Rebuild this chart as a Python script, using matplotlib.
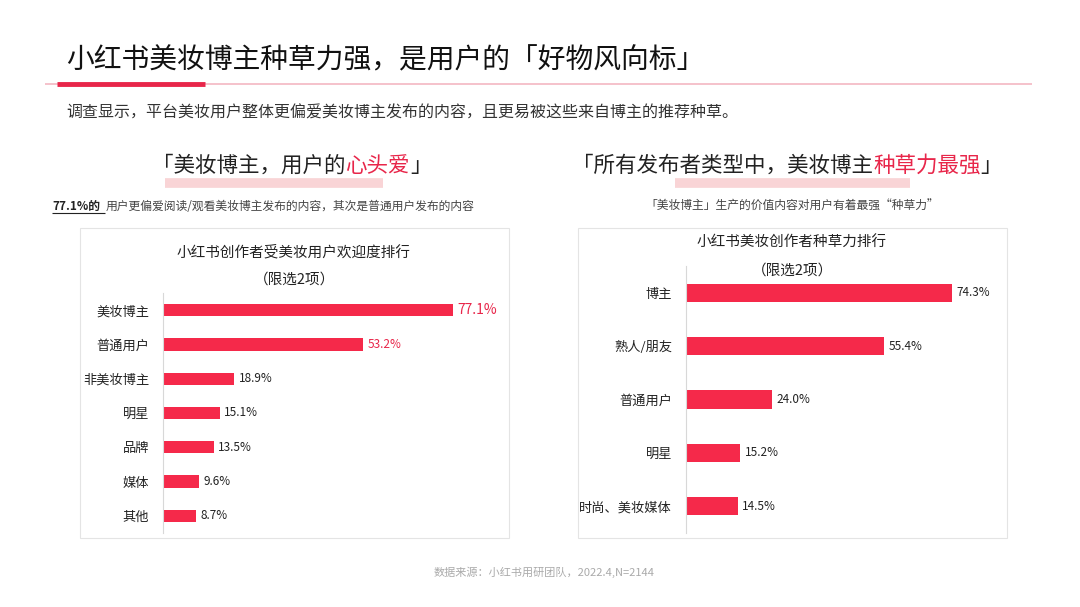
import matplotlib.pyplot as plt
from matplotlib.patches import Rectangle
from matplotlib.lines import Line2D
from matplotlib.text import Annotation

plt.rcParams['font.family'] = ['Noto Sans CJK SC', 'DejaVu Sans']

W, H = 1080, 607
RED = "#f5294a"

left_cats = ["美妆博主", "普通用户", "非美妆博主", "明星", "品牌", "媒体", "其他"]
left_vals = [77.1, 53.2, 18.9, 15.1, 13.5, 9.6, 8.7]
right_cats = ["博主", "熟人/朋友", "普通用户", "明星", "时尚、美妆媒体"]
right_vals = [74.3, 55.4, 24.0, 15.2, 14.5]

fig = plt.figure(figsize=(W / 100, H / 100), dpi=100)
fig.patch.set_facecolor("white")


def fx(x):
    return x / W


def fy(y):
    return 1 - y / H


def txt(x, y, s, **kw):
    return fig.text(fx(x), fy(y), s, **kw)


def chain(x, y, parts, size):
    # each piece starts where the previous one ends
    t = txt(x, y, parts[0][0], fontsize=size, va="baseline", color=parts[0][1])
    for s, c in parts[1:]:
        t = fig.add_artist(Annotation(s, xy=(1, 0), xycoords=t, fontsize=size,
                                      va="bottom", color=c, annotation_clip=False))
    return t


def hline(x0, x1, y, lw, color):
    fig.add_artist(Line2D([fx(x0), fx(x1)], [fy(y), fy(y)], lw=lw, color=color,
                          transform=fig.transFigure, solid_capstyle="butt"))


# header
txt(66, 60, "小红书美妆博主种草力强，是用户的「好物风向标」", fontsize=20, va="center", color="#111")
hline(45, 1032, 84, 1.2, "#f4b8c2")
hline(57, 205, 84, 3.5, "#e8264a")
txt(66, 113, "调查显示，平台美妆用户整体更偏爱美妆博主发布的内容，且更易被这些来自博主的推荐种草。",
    fontsize=11.5, va="center", color="#333")

# section headings
hline(165, 383, 183, 7, "#f9d4d6")
hline(675, 910, 183, 7, "#f9d4d6")
chain(152, 172, [("「美妆博主，用户的", "#222"), ("心头爱", "#e8264a"), ("」", "#222")], 15.5)
chain(572, 172, [("「所有发布者类型中，美妆博主", "#222"), ("种草力最强", "#e8264a"), ("」", "#222")], 15.5)

txt(52, 206, "77.1%的", fontsize=8.5, va="center", weight="bold", color="#222")
hline(52, 105, 213, 0.8, "#222")
txt(106, 206, "用户更偏爱阅读/观看美妆博主发布的内容，其次是普通用户发布的内容",
    fontsize=8.5, va="center", color="#444")
txt(792, 206, "「美妆博主」生产的价值内容对用户有着最强“种草力”", fontsize=8.5,
    va="center", ha="center", color="#444")

# boxes
for x0 in (80, 578):
    fig.add_artist(Rectangle((fx(x0), fy(538)), fx(429), 310 / H, transform=fig.transFigure,
                             fill=False, edgecolor="#e4e4e4", lw=0.8))

txt(294, 252, "小红书创作者受美妆用户欢迎度排行", fontsize=10.5, ha="center", va="center", color="#222")
txt(294, 280, "（限选2项）", fontsize=10.5, ha="center", va="center", color="#222")
txt(792, 243, "小红书美妆创作者种草力排行", fontsize=10.5, ha="center", va="center", color="#222")
txt(792, 271, "（限选2项）", fontsize=10.5, ha="center", va="center", color="#222")


def panel(x0, x1, y0, y1, cats, vals, xmax, bh, hi):
    ax = fig.add_axes([fx(x0), fy(y1), (x1 - x0) / W, (y1 - y0) / H])
    n = len(cats)
    ax.barh(range(n), vals, height=bh, color=RED)
    ax.set_xlim(0, xmax)
    ax.set_ylim(n - 0.5, -0.5)
    ax.set_yticks(range(n))
    ax.set_yticklabels(cats, fontsize=9.5, color="#222")
    ax.set_xticks([])
    ax.tick_params(axis="y", length=0, pad=10)
    for s in ("top", "right", "bottom"):
        ax.spines[s].set_visible(False)
    ax.spines["left"].set_color("#d8d8d8")
    ax.patch.set_alpha(0)
    for i, v in enumerate(vals):
        c = "#e8264a" if i < hi else "#222"
        ax.text(v + 1.2, i, f"{v:.1f}%", va="center", fontsize=10 if i == 0 and hi == 2 else 8.5,
                color=c)
    return ax


panel(163, 500, 293, 533, left_cats, left_vals, 337 / 3.76, 0.36, 2)
panel(686, 1000, 266, 533, right_cats, right_vals, 314 / 3.58, 0.34, 0)

txt(544, 572, "数据来源：小红书用研团队，2022.4,N=2144", fontsize=8, ha="center", va="center", color="#aaa")

fig.savefig("out.png", dpi=100)
